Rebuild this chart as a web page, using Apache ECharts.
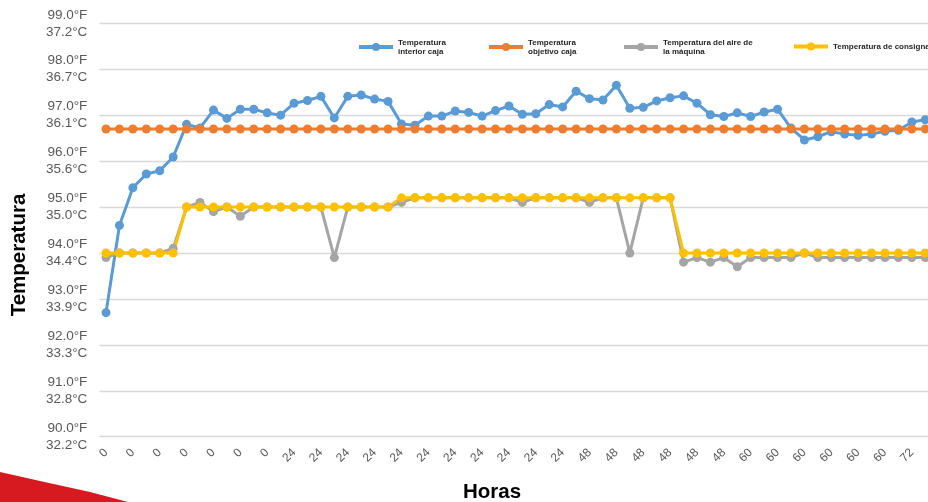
<!DOCTYPE html>
<html>
<head>
<meta charset="utf-8">
<script src="https://cdn.jsdelivr.net/npm/echarts@6/dist/echarts.min.js"></script>
<style>
  html, body { margin: 0; padding: 0; background: #ffffff; }
  #chart { width: 928px; height: 502px; }
</style>
</head>
<body>
<div id="chart"></div>
<script>
// Hour labels for every reading (only every other one is printed)
const hours = [
  '0','0','0','0','0','0','0','0','0','0','0','0','0','0',
  '24','24','24','24','24','24','24','24','24','24','24',
  '24','24','24','24','24','24','24','24','24','24','24',
  '48','48','48','48','48','48','48','48','48','48','48','48',
  '60','60','60','60','60','60','60','60','60','60','60','60',
  '72','72'
];

// Temperatures in °F
const interiorCaja = [
  92.7, 94.6, 95.42, 95.72, 95.79, 96.09, 96.8, 96.72, 97.11, 96.93,
  97.13, 97.13, 97.05, 97.0, 97.26, 97.32, 97.41, 96.94, 97.41, 97.44,
  97.35, 97.3, 96.81, 96.78, 96.98, 96.98, 97.09, 97.06, 96.98, 97.1,
  97.2, 97.02, 97.03, 97.23, 97.18, 97.52, 97.36, 97.33, 97.65, 97.15,
  97.17, 97.31, 97.38, 97.42, 97.26, 97.01, 96.97, 97.05, 96.97, 97.07,
  97.13, 96.72, 96.46, 96.53, 96.64, 96.59, 96.56, 96.59, 96.65, 96.67,
  96.85, 96.9
];

const objetivoCaja = [
  96.7, 96.7, 96.7, 96.7, 96.7, 96.7, 96.7, 96.7, 96.7, 96.7,
  96.7, 96.7, 96.7, 96.7, 96.7, 96.7, 96.7, 96.7, 96.7, 96.7,
  96.7, 96.7, 96.7, 96.7, 96.7, 96.7, 96.7, 96.7, 96.7, 96.7,
  96.7, 96.7, 96.7, 96.7, 96.7, 96.7, 96.7, 96.7, 96.7, 96.7,
  96.7, 96.7, 96.7, 96.7, 96.7, 96.7, 96.7, 96.7, 96.7, 96.7,
  96.7, 96.7, 96.7, 96.7, 96.7, 96.7, 96.7, 96.7, 96.7, 96.7,
  96.7, 96.7
];

const aireMaquina = [
  93.9, 94.0, 94.0, 94.0, 94.0, 94.1, 95.0, 95.1, 94.9, 95.0,
  94.8, 95.0, 95.0, 95.0, 95.0, 95.0, 95.0, 93.9, 95.0, 95.0,
  95.0, 95.0, 95.1, 95.2, 95.2, 95.2, 95.2, 95.2, 95.2, 95.2,
  95.2, 95.1, 95.2, 95.2, 95.2, 95.2, 95.1, 95.2, 95.2, 94.0,
  95.2, 95.2, 95.2, 93.8, 93.9, 93.8, 93.9, 93.7, 93.9, 93.9,
  93.9, 93.9, 94.0, 93.9, 93.9, 93.9, 93.9, 93.9, 93.9, 93.9,
  93.9, 93.9
];

const consigna = [
  94.0, 94.0, 94.0, 94.0, 94.0, 94.0, 95.0, 95.0, 95.0, 95.0,
  95.0, 95.0, 95.0, 95.0, 95.0, 95.0, 95.0, 95.0, 95.0, 95.0,
  95.0, 95.0, 95.2, 95.2, 95.2, 95.2, 95.2, 95.2, 95.2, 95.2,
  95.2, 95.2, 95.2, 95.2, 95.2, 95.2, 95.2, 95.2, 95.2, 95.2,
  95.2, 95.2, 95.2, 94.0, 94.0, 94.0, 94.0, 94.0, 94.0, 94.0,
  94.0, 94.0, 94.0, 94.0, 94.0, 94.0, 94.0, 94.0, 94.0, 94.0,
  94.0, 94.0
];

// Y axis ticks, in °F with the matching °C
const yTickValues = [90, 91, 92, 93, 94, 95, 96, 97, 98, 99];
const yTickF = ['90.0°F', '91.0°F', '92.0°F', '93.0°F', '94.0°F', '95.0°F', '96.0°F', '97.0°F', '98.0°F', '99.0°F'];
const yTickC = ['32.2°C', '32.8°C', '33.3°C', '33.9°C', '34.4°C', '35.0°C', '35.6°C', '36.1°C', '36.7°C', '37.2°C'];

const seriesNames = [
  'Temperatura\ninterior caja',
  'Temperatura\nobjetivo caja',
  'Temperatura del aire de\nla máquina',
  'Temperatura de consigna'
];
const seriesColors = ['#5B9BD5', '#ED7D31', '#A5A5A5', '#FFC000'];
const seriesData = [interiorCaja, objetivoCaja, aireMaquina, consigna];

const chart = echarts.init(document.getElementById('chart'), null, { renderer: 'canvas' });

const legendLeft = [357, 487, 622, 792];
const legendTop = [38, 38, 38, 42];

const option = {
  animation: false,
  backgroundColor: '#ffffff',
  grid: {
    left: 99.3,
    right: -4,
    top: 23.3,
    bottom: 65.3,
    containLabel: false,
    outerBoundsMode: 'none'
  },
  legend: seriesNames.map((n, i) => ({
    data: [n],
    left: legendLeft[i],
    top: legendTop[i],
    orient: 'horizontal',
    itemWidth: 34,
    itemHeight: 10,
    itemGap: 6,
    padding: 0,
    selectedMode: false,
    lineStyle: { width: 4 },
    textStyle: {
      fontFamily: 'Liberation Sans, Arial, sans-serif',
      fontSize: 8,
      fontWeight: 'bold',
      color: '#262626',
      lineHeight: 9
    }
  })),
  xAxis: {
    type: 'category',
    data: hours,
    boundaryGap: true,
    axisLine: { show: false },
    axisTick: { show: false },
    axisLabel: {
      interval: 1,
      rotate: 45,
      margin: 14,
      fontFamily: 'Liberation Sans, Arial, sans-serif',
      fontSize: 12,
      color: '#595959'
    },
    splitLine: { show: false }
  },
  yAxis: {
    type: 'value',
    min: 90,
    max: 99,
    interval: 1,
    axisLine: { show: false },
    axisTick: { show: false },
    axisLabel: {
      margin: 12,
      fontFamily: 'Liberation Sans, Arial, sans-serif',
      fontSize: 13.5,
      lineHeight: 17,
      padding: [4, 0, 0, 0],
      color: '#595959',
      formatter: function (v) {
        const i = yTickValues.indexOf(v);
        return yTickF[i] + '\n' + yTickC[i];
      }
    },
    splitLine: { lineStyle: { color: '#D9D9D9', width: 1.3 } }
  },
  graphic: [
    {
      type: 'polygon',
      silent: true,
      z: -10,
      shape: { points: [[0, 472], [40, 481], [90, 492], [128, 502], [0, 502]] },
      style: { fill: '#D71920' }
    },
    {
      type: 'text',
      x: 19,
      y: 255,
      rotation: Math.PI / 2,
      style: {
        text: 'Temperatura',
        fontFamily: 'Liberation Sans, Arial, sans-serif',
        fontSize: 20.5,
        fontWeight: 'bold',
        fill: '#000000',
        align: 'center',
        verticalAlign: 'middle'
      }
    },
    {
      type: 'text',
      x: 492,
      y: 492,
      style: {
        text: 'Horas',
        fontFamily: 'Liberation Sans, Arial, sans-serif',
        fontSize: 20.5,
        fontWeight: 'bold',
        fill: '#000000',
        align: 'center',
        verticalAlign: 'middle'
      }
    }
  ],
  series: seriesNames.map((n, i) => ({
    name: n,
    type: 'line',
    data: seriesData[i],
    symbol: 'circle',
    symbolSize: 9,
    showSymbol: true,
    showAllSymbol: true,
    color: seriesColors[i],
    lineStyle: { width: 3, color: seriesColors[i] },
    itemStyle: { color: seriesColors[i] },
    emphasis: { disabled: true }
  }))
};

chart.setOption(option);
</script>
</body>
</html>
